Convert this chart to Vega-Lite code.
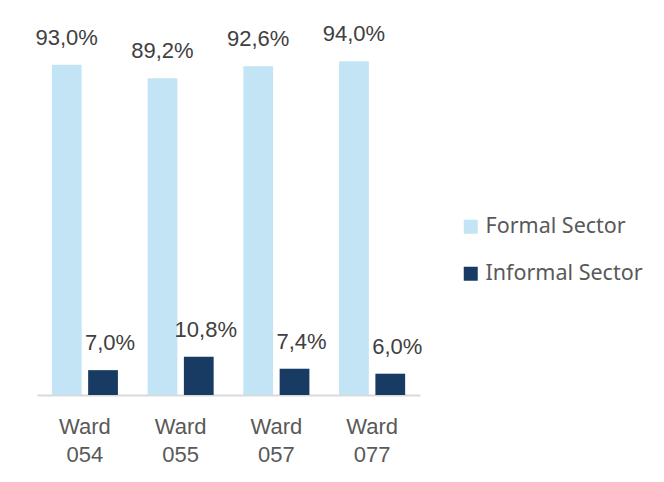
{
  "$schema": "https://vega.github.io/schema/vega-lite/v6.json",
  "width": 383,
  "height": 355,
  "autosize": {"type": "none"},
  "padding": {"left": 37, "top": 40, "right": 244, "bottom": 87},
  "background": "white",
  "config": {
    "view": {"stroke": null},
    "locale": {"number": {"decimal": ",", "thousands": ".", "grouping": [3], "currency": ["", ""]}}
  },
  "data": {
    "values": [
      {"ward": "Ward 054", "sector": "Formal Sector", "share": 0.930},
      {"ward": "Ward 054", "sector": "Informal Sector", "share": 0.070},
      {"ward": "Ward 055", "sector": "Formal Sector", "share": 0.892},
      {"ward": "Ward 055", "sector": "Informal Sector", "share": 0.108},
      {"ward": "Ward 057", "sector": "Formal Sector", "share": 0.926},
      {"ward": "Ward 057", "sector": "Informal Sector", "share": 0.074},
      {"ward": "Ward 077", "sector": "Formal Sector", "share": 0.940},
      {"ward": "Ward 077", "sector": "Informal Sector", "share": 0.060}
    ]
  },
  "encoding": {
    "x": {
      "field": "ward", "type": "nominal",
      "scale": {"paddingInner": 0.31, "paddingOuter": 0.155},
      "axis": {
        "title": null, "labelAngle": 0, "ticks": false,
        "domainColor": "#d9d9d9", "domainWidth": 2,
        "labelExpr": "split(datum.label, ' ')",
        "labelFont": "Liberation Sans", "labelFontSize": 22,
        "labelColor": "#595959", "labelLineHeight": 28, "labelPadding": 21
      }
    },
    "xOffset": {"field": "sector", "type": "nominal", "scale": {"paddingInner": 0.18}},
    "y": {
      "field": "share", "type": "quantitative",
      "scale": {"domain": [0, 1], "nice": false},
      "axis": null
    }
  },
  "layer": [
    {
      "mark": {"type": "bar"},
      "encoding": {
        "color": {
          "field": "sector", "type": "nominal",
          "scale": {"domain": ["Formal Sector", "Informal Sector"], "range": ["#C2E4F5", "#173B63"]},
          "legend": {
            "title": null, "orient": "none", "legendX": 423, "legendY": 176,
            "symbolType": "square", "symbolSize": 196, "symbolStrokeWidth": 0,
            "labelFont": "Noto Sans", "labelFontSize": 21.5, "labelColor": "#595959",
            "labelOffset": 4, "rowPadding": 24
          }
        }
      }
    },
    {
      "transform": [{"filter": "datum.sector == 'Formal Sector'"}],
      "mark": {"type": "text", "baseline": "middle", "dy": -27, "font": "Liberation Sans", "fontSize": 22, "color": "#404040"},
      "encoding": {"text": {"field": "share", "type": "quantitative", "format": ".1%"}}
    },
    {
      "transform": [{"filter": "datum.sector == 'Informal Sector'"}],
      "mark": {"type": "text", "baseline": "middle", "dy": -27, "dx": 7, "font": "Liberation Sans", "fontSize": 22, "color": "#404040"},
      "encoding": {"text": {"field": "share", "type": "quantitative", "format": ".1%"}}
    }
  ]
}
